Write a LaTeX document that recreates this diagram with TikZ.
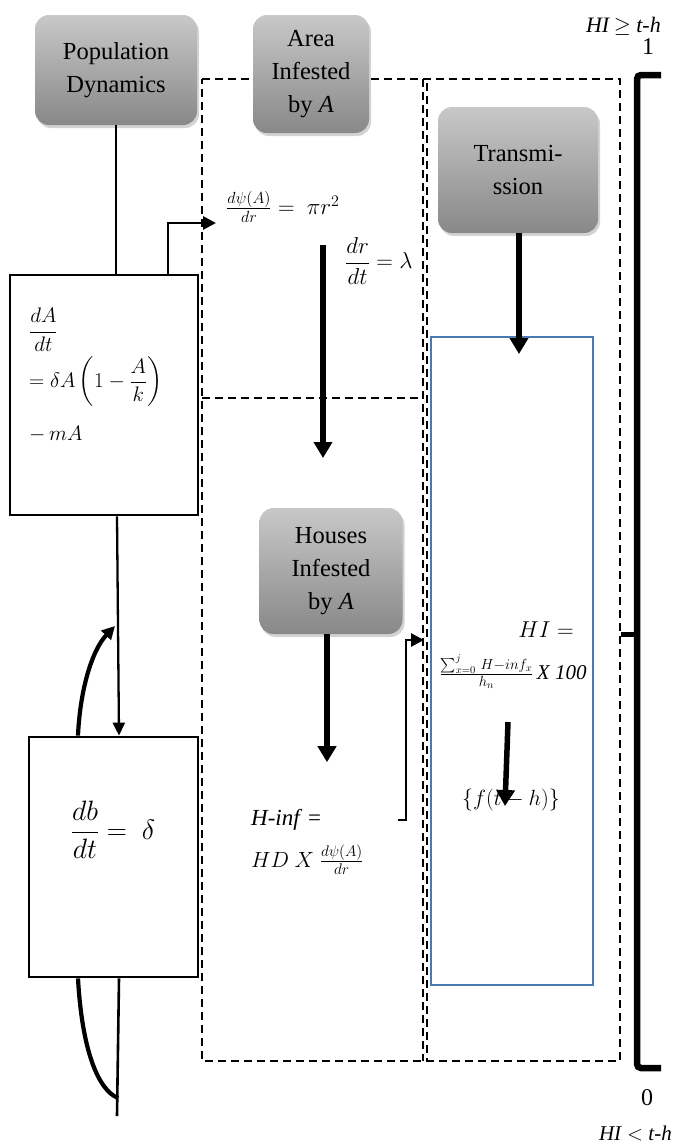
\RequirePackage{fix-cm}
\documentclass[tikz,border=0pt]{standalone}
\usepackage{amsmath}
\usepackage{fontspec}
\setmainfont{Liberation Serif}
\usetikzlibrary{shadows,arrows.meta}
\definecolor{boxblue}{RGB}{74,122,176}
\definecolor{gtop}{RGB}{200,200,200}
\definecolor{gbot}{RGB}{136,136,136}
\tikzset{
  graybox/.style={rounded corners=14pt, top color=gtop, bottom color=gbot,
    drop shadow={shadow xshift=2pt, shadow yshift=-3pt, opacity=0.35},
    align=center, inner sep=0pt, font=\fontsize{24.5}{33}\selectfont},
  eqbox/.style={draw, line width=2.8pt, inner sep=0pt},
  dashline/.style={line width=2pt, dash pattern=on 8pt off 5pt},
  thinln/.style={line width=2.6pt},
  bigarr/.style={line width=5.5pt, -{Triangle[length=16pt,width=18pt]}},
  medarr/.style={line width=2.8pt, -{Triangle[length=13pt,width=13pt]}},
  thinarr/.style={line width=2.3pt, -{Triangle[length=13pt,width=12pt]}},
  curvarr/.style={line width=4.2pt, -{Triangle[length=13pt,width=13pt]}},
  eq/.style={inner sep=0pt, font=\fontsize{21}{26}\selectfont},
  lbl/.style={inner sep=0pt, font=\fontsize{20}{24}\selectfont},
}
\begin{document}
\begin{tikzpicture}[x=1pt,y=-1pt]
\useasboundingbox (0,0) rectangle (675,1144);
% dashed frames
\draw[dashline] (202,79) -- (620,79) -- (620,1061) -- (202,1061) -- cycle;
\draw[dashline] (423,79) -- (423,1061);
\draw[dashline, line width=1.6pt] (427,83) -- (427,1061);
\draw[dashline] (202,398) -- (423,398);
% gray header boxes
\node[graybox, minimum width=162pt, minimum height=110pt] (pop) at (116,70) {Population\\Dynamics};
\node[graybox, minimum width=116pt, minimum height=118pt] (area) at (311,74) {Area\\Infested\\by \textit{A}};
\node[graybox, minimum width=160pt, minimum height=126pt] (trans) at (518,170) {Transmi-\\ssion};
\node[graybox, minimum width=143pt, minimum height=126pt] (houses) at (331,571) {Houses\\Infested\\by \textit{A}};
% equation boxes
\node[eqbox, minimum width=188pt, minimum height=240pt] (abox) at (104,395) {};
\node[eqbox, minimum width=169pt, minimum height=240pt] (bbox) at (113.5,857) {};
\node[draw=boxblue, line width=2pt, minimum width=162pt, minimum height=648pt, inner sep=0pt] (hibox) at (512,661) {};
% equations
\node[eq, anchor=west] (eqa1) at (29,330) {$\dfrac{dA}{dt}$};
\node[eq, anchor=west] (eqa2) at (29,382) {$=\delta A\left(1-\dfrac{A}{k}\right)$};
\node[eq, anchor=west] (eqa3) at (29,434) {$-\,mA$};
\node[eq, anchor=center, font=\fontsize{28}{32}\selectfont] (eqb) at (113,830) {$\dfrac{db}{dt} =\ \delta$};
\node[eq, anchor=west, font=\fontsize{23}{26}\selectfont] (psi) at (226,207) {$\frac{d\psi(A)}{dr} =\ \pi r^2$};
\node[eq, anchor=west, font=\fontsize{23}{26}\selectfont] (drdt) at (345,261) {$\dfrac{dr}{dt} = \lambda$};
\node[eq, anchor=west, font=\fontsize{23}{26}\selectfont] (hinf1) at (251,820) {\textit{H-inf} =};
\node[eq, anchor=west, font=\fontsize{22}{26}\selectfont] (hinf2) at (251,860) {$HD\ X\ \frac{d\psi(A)}{dr}$};
\node[eq, anchor=center, font=\fontsize{23}{26}\selectfont] (hi1) at (546,630) {$HI =$};
\node[eq, anchor=center, font=\fontsize{21}{26}\selectfont] (hi2) at (513,672) {$\frac{\sum_{x=0}^{j}\, H-inf_x}{h_n}$\,\textit{X 100}};
\node[eq, anchor=center, font=\fontsize{22}{26}\selectfont] (fth) at (511,800) {$\{f(t-h)\}$};
% labels
\node[lbl, anchor=east, font=\fontsize{22}{26}\selectfont] (geq) at (661,26) {\textit{HI}\,$\geq$ \textit{t-h}};
\node[lbl, anchor=center, font=\fontsize{24}{28}\selectfont] (one) at (648,47) {1};
\node[lbl, anchor=center, font=\fontsize{24}{28}\selectfont] (zero) at (647,1098) {0};
\node[lbl, anchor=east, font=\fontsize{21}{26}\selectfont] (lt) at (672,1133) {\textit{HI} $<$ \textit{t-h}};
% coordinates for free ends
\coordinate (psitip) at (216,223);
\coordinate (dr1) at (323,245);
\coordinate (dr2) at (323,458);
\coordinate (hstart) at (398,820);
\coordinate (htip) at (424,640);
\coordinate (tend) at (519,354);
\coordinate (hia) at (508,722);
\coordinate (hib) at (505,806);
\coordinate (loopend) at (115,626);
\coordinate (bend) at (118,1098);
\coordinate (bottom) at (117,1116);
% connectors
\draw[thinln] (pop.south) -- (pop.south |- abox.north);
\draw[medarr] ([xshift=64pt]abox.north) |- (psitip);
\draw[bigarr] (dr1) -- (dr2);
\draw[bigarr] ([xshift=-4pt]houses.south) -- ++(0,128);
\draw[medarr] (hstart) -- ++(8,0) |- (htip);
\draw[bigarr] ([xshift=1pt]trans.south) -- (tend);
\draw[bigarr] (hia) -- (hib);
\draw[thinarr] ([xshift=13pt]abox.south) -- ([xshift=5.5pt]bbox.north);
\draw[curvarr] ([xshift=-35.5pt]bbox.north) .. controls (80,690) and (92,650) .. (loopend);
\draw[thinln] ([xshift=5.5pt]bbox.south) -- (bottom);
\draw[line width=4.2pt] ([xshift=-35.5pt]bbox.south) .. controls (82,1050) and (98,1090) .. (bend);
% right bracket
\draw[line width=6.5pt, rounded corners=4pt] (661,75) -- (637,75) -- (637,1068) -- (661,1068);
\draw[line width=5pt] (637,634) -- (621,634);
\end{tikzpicture}
\end{document}
